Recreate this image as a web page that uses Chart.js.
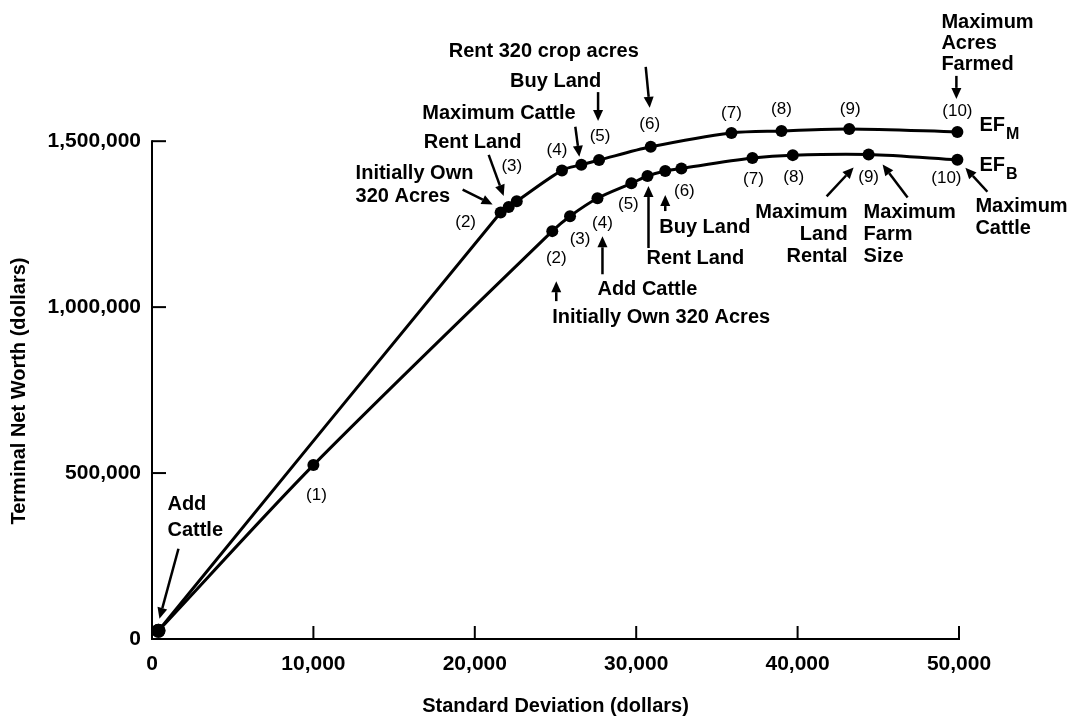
<!DOCTYPE html>
<html>
<head>
<meta charset="utf-8">
<script src="https://cdn.jsdelivr.net/npm/chart.js@4.4.1/dist/chart.umd.min.js"></script>
<style>
  html, body { margin: 0; padding: 0; background: #fff; }
  #wrap { width: 1068px; height: 721px; position: relative; }
</style>
</head>
<body>
<div id="wrap"><canvas id="lineChart"></canvas></div>
<script>
// axis ticks
const xTicks = [0, 10000, 20000, 30000, 40000, 50000];
const yTicks = [0, 500000, 1000000, 1500000];
const yAxisTitle = 'Terminal Net Worth (dollars)';
const xAxisTitle = 'Standard Deviation (dollars)';

// EF_M frontier (standard deviation, terminal net worth)
const efmX = [400, 21600, 22100, 22600, 25400, 26600, 27700, 30900, 35900, 39000, 43200, 49900];
const efmY = [25000, 1285000, 1302000, 1319000, 1412000, 1429000, 1443000, 1483000, 1525000, 1531000, 1537000, 1528000];
const efmPointLabels = ['', '(2)', '', '(3)', '(4)', '', '(5)', '(6)', '(7)', '(8)', '(9)', '(10)'];

// EF_B frontier
const efbX = [400, 10000, 24800, 25900, 27600, 29700, 30700, 31800, 32800, 37200, 39700, 44400, 49900];
const efbY = [25000, 524000, 1229000, 1274000, 1328000, 1373000, 1395000, 1410000, 1418000, 1449000, 1458000, 1460000, 1444000];
const efbPointLabels = ['', '(1)', '(2)', '(3)', '(4)', '(5)', '', '', '(6)', '(7)', '(8)', '(9)', '(10)'];

// label placement (pixels from the point)
const efmLabelOffsets = [null, [-35, 10], null, [-5, -35], [-5, -20], null, [1, -24], [-1, -23], [0, -20], [0, -22], [1, -20], [0, -21]];
const efbLabelOffsets = [null, [3, 30], [4, 27], [10, 23], [5, 25], [-3, 21], null, null, [3, 23], [1, 21], [1, 22], [0, 23], [-11, 19]];

// callouts: set 0 = EF_M, 1 = EF_B; at = point index
const notes = [
  { set: 0, at: 1, lines: ['Initially Own', '320 Acres'], align: 'left', dx: -145, dy: -39, lh: 23, tail: [-38, -23], head: [-8, -8] },
  { set: 0, at: 2, lines: ['Rent Land'], align: 'left', dx: -85, dy: -64, tail: [-20, -52], head: [-5, -11] },
  { set: 0, at: 5, lines: ['Maximum Cattle'], align: 'left', dx: -159, dy: -51, tail: [-6, -38], head: [-2, -8] },
  { set: 0, at: 6, lines: ['Buy Land'], align: 'left', dx: -89, dy: -79, tail: [-1, -68], head: [-1, -39] },
  { set: 0, at: 7, lines: ['Rent 320 crop acres'], align: 'left', dx: -202, dy: -95, tail: [-5, -80], head: [-1, -39] },
  { set: 0, at: 11, lines: ['Maximum', 'Acres', 'Farmed'], align: 'left', dx: -16, dy: -109, lh: 21, tail: [-1, -56], head: [-1, -33] },
  { set: 1, at: 0, lines: ['Add', 'Cattle'], align: 'left', dx: 9, dy: -126, lh: 26, tail: [20, -82], head: [1, -12] },
  { set: 1, at: 2, lines: ['Initially Own 320 Acres'], align: 'left', dx: 0, dy: 86, tail: [4, 70], head: [4, 50] },
  { set: 1, at: 4, lines: ['Add Cattle'], align: 'left', dx: 0, dy: 91, tail: [5, 76], head: [5, 38] },
  { set: 1, at: 6, lines: ['Rent Land'], align: 'left', dx: -1, dy: 82, tail: [1, 72], head: [1, 10] },
  { set: 1, at: 7, lines: ['Buy Land'], align: 'left', dx: -6, dy: 56, tail: [0, 40], head: [0, 24] },
  { set: 1, at: 11, lines: ['Maximum', 'Land', 'Rental'], align: 'right', dx: -21, dy: 58, lh: 22, tail: [-42, 42], head: [-15, 13] },
  { set: 1, at: 11, lines: ['Maximum', 'Farm', 'Size'], align: 'left', dx: -5, dy: 58, lh: 22, tail: [39, 43], head: [14, 10] },
  { set: 1, at: 12, lines: ['Maximum', 'Cattle'], align: 'left', dx: 18, dy: 47, lh: 22, tail: [30, 32], head: [8, 8] }
];

const FONT = '"Liberation Sans", Arial, sans-serif';

function drawArrow(ctx, x1, y1, x2, y2) {
  const a = Math.atan2(y2 - y1, x2 - x1);
  const len = 11, half = 5;
  const bx = x2 - len * Math.cos(a), by = y2 - len * Math.sin(a);
  ctx.beginPath();
  ctx.moveTo(x1, y1);
  ctx.lineTo(bx, by);
  ctx.stroke();
  ctx.beginPath();
  ctx.moveTo(x2, y2);
  ctx.lineTo(bx + half * Math.sin(a), by - half * Math.cos(a));
  ctx.lineTo(bx - half * Math.sin(a), by + half * Math.cos(a));
  ctx.closePath();
  ctx.fill();
}

const notesPlugin = {
  id: 'notes',
  afterDatasetsDraw(chart) {
    const { ctx, chartArea, scales: { x, y } } = chart;
    ctx.save();
    ctx.strokeStyle = '#000';
    ctx.fillStyle = '#000';

    // y axis line up to the last tick, then inward tick marks
    const yTop = y.getPixelForValue(yTicks[yTicks.length - 1]);
    ctx.lineWidth = 2;
    ctx.beginPath();
    ctx.moveTo(chartArea.left, chartArea.bottom + 1);
    ctx.lineTo(chartArea.left, yTop - 1);
    ctx.stroke();
    xTicks.forEach(v => {
      if (v <= 0) return;
      const px = x.getPixelForValue(v);
      ctx.beginPath();
      ctx.moveTo(px, chartArea.bottom);
      ctx.lineTo(px, chartArea.bottom - 13);
      ctx.stroke();
    });
    yTicks.forEach(v => {
      if (v <= 0) return;
      const py = y.getPixelForValue(v);
      ctx.beginPath();
      ctx.moveTo(chartArea.left, py);
      ctx.lineTo(chartArea.left + 14, py);
      ctx.stroke();
    });

    // y axis title
    ctx.save();
    ctx.translate(19, 391);
    ctx.rotate(-Math.PI / 2);
    ctx.font = 'bold 20px ' + FONT;
    ctx.textAlign = 'center';
    ctx.textBaseline = 'middle';
    ctx.fillText(yAxisTitle, 0, 0);
    ctx.restore();

    const pts = [chart.getDatasetMeta(0).data, chart.getDatasetMeta(1).data];

    // point numbers
    ctx.font = '17px ' + FONT;
    ctx.textAlign = 'center';
    ctx.textBaseline = 'middle';
    [[efmPointLabels, efmLabelOffsets, 0], [efbPointLabels, efbLabelOffsets, 1]].forEach(([labels, offs, s]) => {
      labels.forEach((t, i) => {
        if (!t) return;
        const p = pts[s][i];
        ctx.fillText(t, p.x + offs[i][0], p.y + offs[i][1]);
      });
    });

    // callouts
    ctx.font = 'bold 20px ' + FONT;
    ctx.lineWidth = 2.5;
    notes.forEach(n => {
      const p = pts[n.set][n.at];
      ctx.textAlign = n.align;
      const lh = n.lh || 22;
      n.lines.forEach((line, k) => {
        ctx.fillText(line, p.x + n.dx, p.y + n.dy + k * lh);
      });
      drawArrow(ctx, p.x + n.tail[0], p.y + n.tail[1], p.x + n.head[0], p.y + n.head[1]);
    });

    // frontier names with subscripts
    [['M', 0, efmX.length - 1, -6], ['B', 1, efbX.length - 1, 6]].forEach(([sub, s, i, dy]) => {
      const p = pts[s][i];
      ctx.textAlign = 'left';
      ctx.font = 'bold 20px ' + FONT;
      ctx.fillText('EF', p.x + 22, p.y + dy);
      const w = ctx.measureText('EF').width;
      ctx.font = 'bold 16px ' + FONT;
      ctx.fillText(sub, p.x + 22 + w + 1, p.y + dy + 9);
    });

    ctx.restore();
  }
};

const toPoints = (xs, ys) => xs.map((v, i) => ({ x: v, y: ys[i] }));

const ctx = document.getElementById('lineChart').getContext('2d');
const lineChart = new Chart(ctx, {
  type: 'line',
  data: {
    datasets: [
      {
        label: 'EF_M',
        data: toPoints(efmX, efmY),
        borderColor: '#000',
        backgroundColor: '#000',
        borderWidth: 3,
        pointRadius: efmX.map((v, i) => (i === 0 ? 7 : 6)),
        pointBorderWidth: 0,
        tension: 0.3,
        clip: false
      },
      {
        label: 'EF_B',
        data: toPoints(efbX, efbY),
        borderColor: '#000',
        backgroundColor: '#000',
        borderWidth: 3,
        pointRadius: efbX.map((v, i) => (i === 0 ? 7 : 6)),
        pointBorderWidth: 0,
        tension: 0.3,
        clip: false
      }
    ]
  },
  options: {
    responsive: true,
    maintainAspectRatio: false,
    animation: false,
    layout: { autoPadding: false, padding: { top: 108, right: 109, bottom: 0, left: 0 } },
    plugins: { legend: { display: false }, tooltip: { enabled: false } },
    scales: {
      x: {
        type: 'linear',
        min: 0,
        max: 50000,
        afterFit: s => { s.height = 82; },
        afterBuildTicks: s => { s.ticks = xTicks.map(v => ({ value: v })); },
        grid: { display: false, drawTicks: false },
        border: { display: true, color: '#000', width: 2 },
        ticks: {
          color: '#000',
          padding: 13,
          maxRotation: 0,
          font: { family: FONT, size: 21, weight: 'bold' },
          callback: v => v.toLocaleString('en-US')
        },
        title: {
          display: true,
          text: xAxisTitle,
          color: '#000',
          font: { family: FONT, size: 20, weight: 'bold' },
          padding: { top: 0, bottom: 3 }
        }
      },
      y: {
        type: 'linear',
        min: 0,
        max: 1600000,
        afterFit: s => { s.width = 152; },
        afterBuildTicks: s => { s.ticks = yTicks.map(v => ({ value: v })); },
        grid: { display: false, drawTicks: false },
        border: { display: false },
        ticks: {
          color: '#000',
          padding: 11,
          font: { family: FONT, size: 21, weight: 'bold' },
          callback: v => v.toLocaleString('en-US')
        },
        title: { display: false }
      }
    }
  },
  plugins: [notesPlugin]
});
</script>
</body>
</html>
